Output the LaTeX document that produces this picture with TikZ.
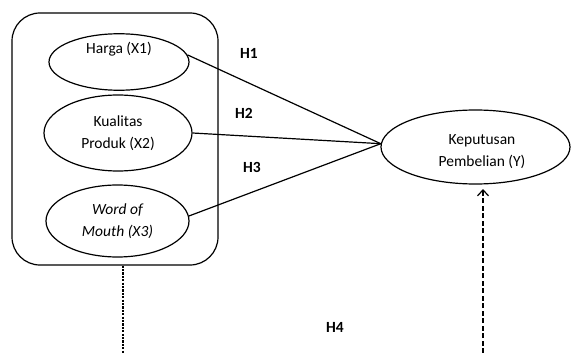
\documentclass[tikz,border=0pt]{standalone}
\usepackage{fontspec}
\setmainfont{Carlito}
\usetikzlibrary{shapes.geometric,arrows.meta}
\begin{document}
\begin{tikzpicture}[x=1pt,y=-1pt,
  every node/.style={font=\fontsize{15.5}{22}\selectfont},
  var/.style={draw, ellipse, line width=1.2pt, inner sep=0pt, align=center},
  hyp/.style={font=\fontsize{15.5}{18}\selectfont\bfseries},
  link/.style={line width=1.2pt},
  dash1/.style={line width=1.2pt, dash pattern=on 2.2pt off 1.2pt},
  dash2/.style={line width=1.2pt, dash pattern=on 5pt off 2.5pt}]
\useasboundingbox (0,0) rectangle (571,353);
\node[draw, line width=1.2pt, rounded corners=28pt, minimum width=206pt, minimum height=252pt] (box) at (115,139) {};
\node[var, minimum width=140pt, minimum height=54pt] (x1) at (119,62) {Harga (X1)\\\strut};
\node[var, minimum width=148pt, minimum height=76pt] (x2) at (118,133) {Kualitas\\Produk (X2)};
\node[var, minimum width=143pt, minimum height=72pt] (x3) at (117.5,221) {\itshape Word of\\\itshape Mouth (X3)};
\node[var, minimum width=189pt, minimum height=74pt] (y) at (475.5,147) {};
\node[align=center] (ytext) at (482,152) {Keputusan\\Pembelian (Y)};
\node[hyp] (h1) at (249,53) {H1};
\node[hyp] (h2) at (244,113) {H2};
\node[hyp] (h3) at (252,167) {H3};
\node[hyp] (h4) at (335,327) {H4};
\coordinate (c) at (y.178);
\draw[link] (x1.6) -- (c);
\draw[link] (x2.east) -- (c);
\draw[link] (x3.4) -- (c);
\coordinate (b1) at (123,353);
\draw[dash1] (box.south -| b1) -- (b1);
\coordinate (b2) at (483,353);
\coordinate (t2) at (483,189);
\draw[dash2, -{Straight Barb[length=6pt,width=11pt,line width=1.2pt]}] (b2) -- (t2);
\end{tikzpicture}
\end{document}
